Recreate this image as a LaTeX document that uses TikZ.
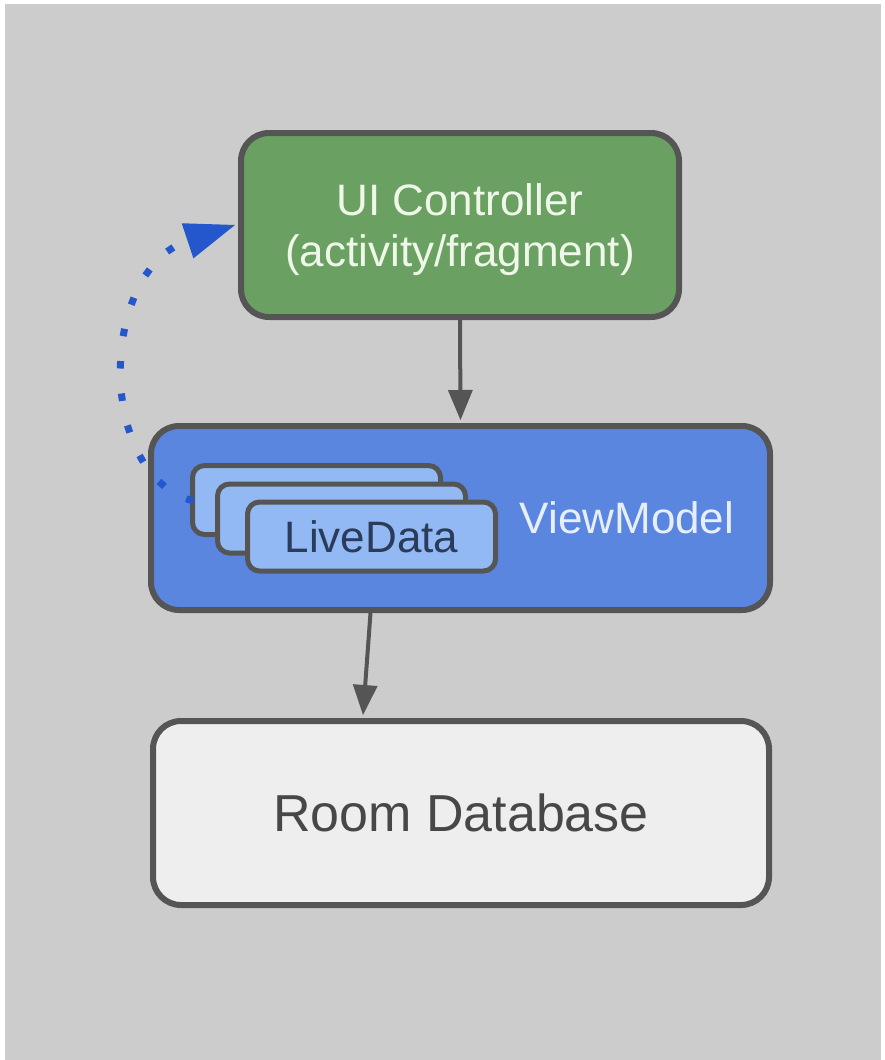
\documentclass[tikz,border=0pt]{standalone}
\usepackage{fontspec}
\setmainfont{Liberation Sans}
\usetikzlibrary{arrows.meta,calc}

\definecolor{paper}{HTML}{CCCCCC}
\definecolor{edge}{HTML}{555555}
\definecolor{uifill}{HTML}{6AA162}
\definecolor{uitext}{HTML}{EEF7E8}
\definecolor{vmfill}{HTML}{5B86E0}
\definecolor{vmtext}{HTML}{E6EEFF}
\definecolor{cardfill}{HTML}{92B9F3}
\definecolor{cardtext}{HTML}{2B3B5A}
\definecolor{dbfill}{HTML}{EEEEEE}
\definecolor{dbtext}{HTML}{474747}
\definecolor{dotblue}{HTML}{2457CC}

\tikzset{
  box/.style={draw=edge, line width=6pt, rounded corners=28pt, inner sep=0pt,
    minimum height=184pt},
  card/.style={draw=edge, line width=5pt, rounded corners=12pt, inner sep=0pt,
    fill=cardfill, minimum width=248pt, minimum height=69pt},
  flow/.style={draw=edge, line width=4pt,
    -{Triangle[length=30pt,width=25pt,line width=0pt]}},
  observe/.style={draw=dotblue, line width=7pt, line cap=rect,
    dash pattern=on 0.5pt off 32pt,
    -{Triangle[length=50pt,width=37pt,line width=0pt]}},
  big/.style={font=\fontsize{44}{51}\selectfont},
}

\begin{document}
\begin{tikzpicture}[x=1pt,y=-1pt]
  % page and grey panel
  \fill[white] (0,0) rectangle (884,1060);
  \fill[paper] (5,4) rectangle (881,1060);
  \useasboundingbox (0,0) rectangle (884,1060);

  % UI controller
  \node[box, fill=uifill, minimum width=438pt,
    label={[big, text=uitext, align=center, yshift=-5pt]center:{UI Controller\\(activity/fragment)}}]
    (ui) at (460,225) {};

  % ViewModel with stacked LiveData cards
  \node[box, fill=vmfill, minimum width=619pt] (vm) at (460.5,518) {};
  \node[card] (ldA) at (316.5,500) {};
  \node[card] (ldB) at (341.5,518.5) {};
  \node[card, big, text=cardtext] (ldC) at (371.5,536.5) {LiveData};
  \node[big, text=vmtext] (vmlabel) at (627,518) {ViewModel};

  % Room database
  \node[box, fill=dbfill, minimum width=616pt, text=dbtext,
    font=\fontsize{52}{58}\selectfont] (db) at (461,813) {Room Database};

  % dependencies
  \draw[flow] (ui.south) -- ($(vm.north)+(0,-3)$);
  \draw[flow] ($(vm.south)+(-90,0)$) -- ($(db.north)+(-98,-3)$);

  % LiveData observed by the UI controller
  \draw[observe] (ldA.west) .. controls +(-95,-30) and +(-135,45) .. ($(ui.west)+(-3,0)$);
\end{tikzpicture}
\end{document}
